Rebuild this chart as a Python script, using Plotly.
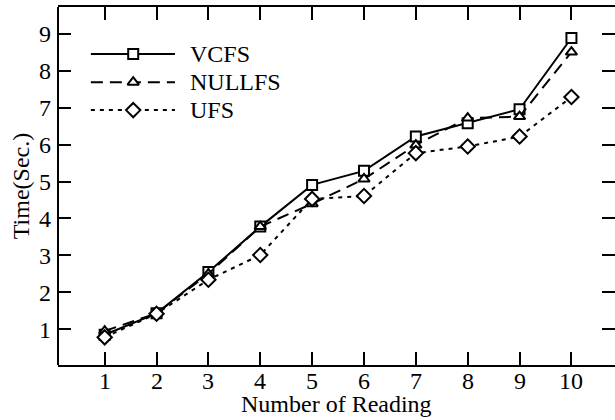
import plotly.graph_objects as go

readings = [1, 2, 3, 4, 5, 6, 7, 8, 9, 10]
vcfs = [0.85, 1.43, 2.55, 3.78, 4.91, 5.29, 6.22, 6.58, 6.96, 8.89]
nullfs = [0.95, 1.43, 2.50, 3.78, 4.40, 5.07, 5.99, 6.72, 6.76, 8.51]
ufs = [0.78, 1.42, 2.34, 3.01, 4.53, 4.61, 5.77, 5.95, 6.22, 7.29]
y_ticks = [1, 2, 3, 4, 5, 6, 7, 8, 9]

names = ["VCFS", "NULLFS", "UFS"]
series = [vcfs, nullfs, ufs]
symbols = ["square", "triangle-up", "diamond"]
dashes = ["solid", "12px,7px", "4px,5px"]
msizes = [10, 10, 11]

FONT = "Liberation Serif, Times New Roman, serif"
FS = 24

fig = go.Figure()
for name, vals, sym, dash, ms in zip(names, series, symbols, dashes, msizes):
    fig.add_trace(go.Scatter(
        x=readings, y=vals, mode="lines+markers", name=name, showlegend=False,
        line=dict(color="black", width=2, dash=dash),
        marker=dict(symbol=sym, size=ms, color="white",
                    line=dict(color="black", width=2)),
    ))

# custom legend (long sample lines) drawn on an invisible overlay axis
leg_y = [0.869, 0.790, 0.712]
x0, xm, x1, xt = 0.059, 0.135, 0.210, 0.233
for name, sym, dash, ms, ly in zip(names, symbols, dashes, msizes, leg_y):
    fig.add_trace(go.Scatter(
        x=[x0, x1], y=[ly, ly], mode="lines", xaxis="x2", yaxis="y2",
        showlegend=False, hoverinfo="skip",
        line=dict(color="black", width=2, dash=dash)))
    fig.add_trace(go.Scatter(
        x=[xm], y=[ly], mode="markers", xaxis="x2", yaxis="y2",
        showlegend=False, hoverinfo="skip",
        marker=dict(symbol=sym, size=ms, color="white",
                    line=dict(color="black", width=2))))
    fig.add_annotation(x=xt, y=ly, xref="x2", yref="y2", text=name,
                       showarrow=False, xanchor="left", yanchor="middle",
                       font=dict(family=FONT, size=FS, color="black"))

# x tick labels as annotations (placed closer to the axis, as in the reference)
for r in readings:
    fig.add_annotation(x=r, y=-0.045, xref="x", yref="paper", text=str(r),
                       showarrow=False, xanchor="center", yanchor="middle",
                       font=dict(family=FONT, size=FS, color="black"))

# x axis title as annotation for exact placement
fig.add_annotation(x=0.5, y=-0.11, xref="paper", yref="paper",
                   text="Number of Reading", showarrow=False,
                   xanchor="center", yanchor="middle",
                   font=dict(family=FONT, size=FS, color="black"))

# left frame line (the right frame edge lies outside the picture)
fig.add_shape(type="line", xref="paper", yref="paper", x0=0, x1=0, y0=0, y1=1,
              line=dict(color="black", width=2))

fig.update_layout(
    width=615, height=420,
    margin=dict(l=58, r=0, t=7, b=55),
    paper_bgcolor="white", plot_bgcolor="white",
    font=dict(family=FONT, size=FS, color="black"),
    showlegend=False,
    xaxis=dict(
        range=[0.1, 10.84], tickvals=readings, ticks="inside", ticklen=13,
        tickwidth=2, tickcolor="black", showline=True, linewidth=2,
        linecolor="black", mirror="ticks", showgrid=False, zeroline=False,
        showticklabels=False, color="black",
        automargin=False,
    ),
    yaxis=dict(
        range=[0.03, 9.73], tickvals=y_ticks, ticks="inside", ticklen=13,
        tickwidth=2, tickcolor="black", showline=False, color="black",
        mirror="ticks", showgrid=False, zeroline=False,
        ticklabelstandoff=6,
        title=dict(text="Time(Sec.)", standoff=2,
                   font=dict(family=FONT, size=FS, color="black")),
        tickfont=dict(family=FONT, size=FS, color="black"),
        automargin=False,
    ),
    xaxis2=dict(overlaying="x", range=[0, 1], visible=False),
    yaxis2=dict(overlaying="y", range=[0, 1], visible=False),
)

fig.write_html("out.html", config={"displayModeBar": False},
               post_script="document.body.style.margin='0';document.body.style.overflow='hidden';")
